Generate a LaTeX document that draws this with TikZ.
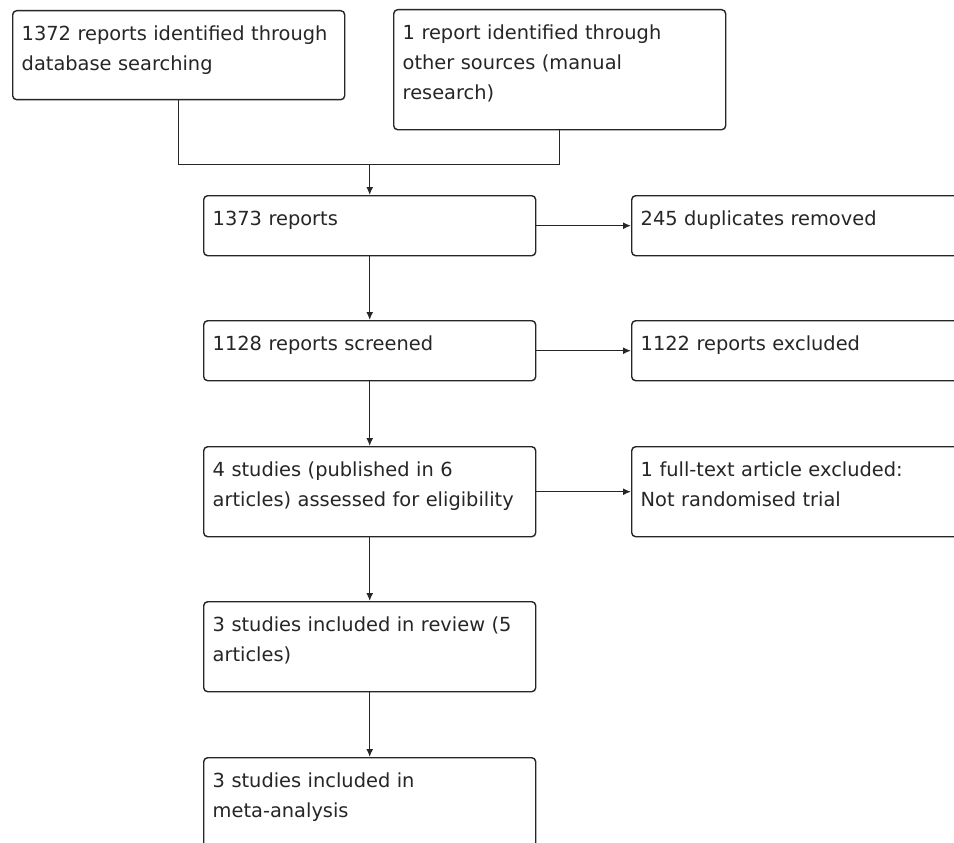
\documentclass[tikz,border=0pt]{standalone}
\usepackage{fontspec}
\setmainfont{DejaVu Sans}
\usetikzlibrary{arrows.meta}
\definecolor{ink}{HTML}{262626}
\tikzset{
  box/.style={draw=ink, line width=1.4pt, rounded corners=4pt, anchor=north west,
    inner xsep=9pt, inner ysep=9pt, text width=314pt, align=left,
    text height=21pt, text depth=21pt, text=ink,
    font=\fontsize{19.4}{30}\selectfont},
  link/.style={draw=ink, line width=1.4pt},
  arr/.style={link, -{Latex[length=8pt,width=7pt]}}
}
\begin{document}
\begin{tikzpicture}[x=1pt, y=-1pt]
\clip (0,0) rectangle (954,843);
\fill[white] (0,0) rectangle (954,843);
\node[box, text depth=50pt] (A) at (12,10) {1372 reports identified through\\database searching};
\node[box, text depth=81pt] (B) at (393,9) {1 report identified through\\other sources (manual\\research)};
\node[box] (C) at (203,195) {1373 reports};
\node[box] (D) at (631,195) {245 duplicates removed};
\node[box] (E) at (203,320) {1128 reports screened};
\node[box] (F) at (631,320) {1122 reports excluded};
\node[box, text depth=51pt] (G) at (203,446) {4 studies (published in 6\\articles) assessed for eligibility};
\node[box, text depth=51pt] (H) at (631,446) {1 full-text article excluded:\\Not randomised trial};
\node[box, text depth=51pt] (I) at (203,601) {3 studies included in review (5\\articles)};
\node[box, text depth=51pt] (J) at (203,757) {3 studies included in\\meta-analysis};
\coordinate (j) at (C.north |- A.south);
\coordinate (j) at ([yshift=-64pt]j);
\draw[link] (A.south) |- (j) -| (B.south);
\draw[arr] (j) -- (C.north);
\draw[arr] (C) -- (E);
\draw[arr] (E) -- (G);
\draw[arr] (G) -- (I);
\draw[arr] (I) -- (J);
\draw[arr] (C) -- (D);
\draw[arr] (E) -- (F);
\draw[arr] (G) -- (H);
\end{tikzpicture}
\end{document}
